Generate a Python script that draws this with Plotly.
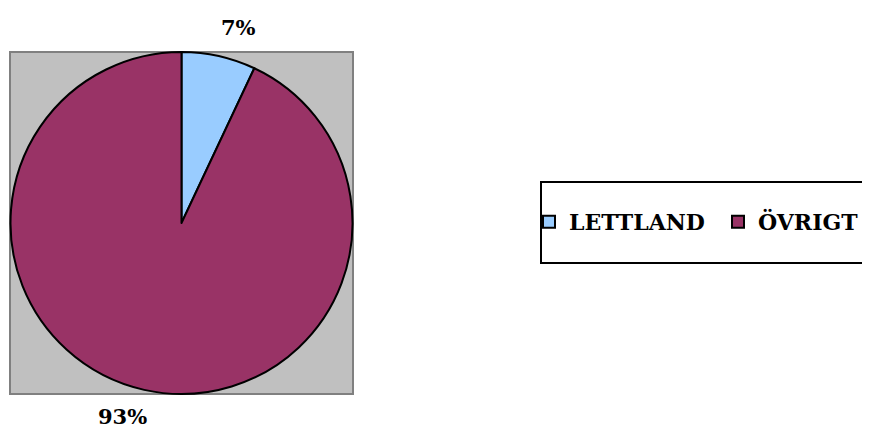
import plotly.graph_objects as go

labels = ["LETTLAND", "ÖVRIGT"]
values = [7, 93]
colors = ["#99CCFF", "#993366"]

W, H = 870, 430
OFF = 8  # page body margin
def px(x): return (x - OFF) / W
def py(y): return 1 - (y - OFF) / H

FONT = "DejaVu Serif"

fig = go.Figure(go.Pie(
    labels=labels, values=values, sort=False, direction="clockwise", rotation=0,
    marker=dict(colors=colors, line=dict(color="black", width=2)),
    textinfo="none", hoverinfo="label+percent",
    domain=dict(x=[px(10), px(353)], y=[py(394), py(52)]),
))

total = sum(values)
label_pos = [(238, 27), (122, 416)]
annotations = []
for v, (x, y) in zip(values, label_pos):
    annotations.append(dict(x=px(x), y=py(y), xref="paper", yref="paper",
                            xanchor="center", yanchor="middle",
                            text=f"<b>{round(100*v/total)}%</b>", showarrow=False,
                            font=dict(family=FONT, size=21, color="black")))

fig.update_layout(
    width=W, height=H, margin=dict(l=0, r=0, t=0, b=0, autoexpand=False),
    paper_bgcolor="white", plot_bgcolor="white",
    shapes=[
        dict(type="rect", xref="paper", yref="paper", x0=px(10), x1=px(353), y0=py(394), y1=py(52),
             fillcolor="#C0C0C0", line=dict(color="#808080", width=2), layer="below"),
        dict(type="rect", xref="paper", yref="paper", x0=px(541), x1=px(880), y0=py(263), y1=py(182),
             fillcolor="rgba(0,0,0,0)", line=dict(color="black", width=2)),
    ],
    annotations=annotations,
    legend=dict(orientation="h", x=px(529), y=py(222), xanchor="left", yanchor="middle",
                font=dict(family=FONT, size=22, color="black", weight="bold"),
                bgcolor="rgba(0,0,0,0)", itemwidth=30, tracegroupgap=0,
                entrywidth=144, entrywidthmode="pixels"),
    showlegend=True,
)
fig.write_html("out.html")
